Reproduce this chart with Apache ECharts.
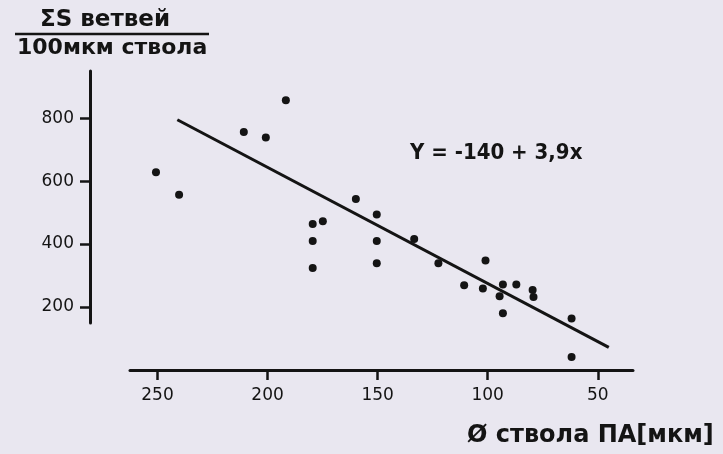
<!DOCTYPE html>
<html><head><meta charset="utf-8">
<script src="https://cdn.jsdelivr.net/npm/echarts@6/dist/echarts.min.js"></script>
<style>html,body{margin:0;padding:0;background:#e9e7f0;}#c{width:723px;height:454px;}</style>
</head><body><div id="c"></div>
<script>
// trunk diameter (µm) and sum of branch area per 100 µm trunk
const diam = [191.7,210.8,200.8,250.7,240.2,179.5,174.9,179.5,179.5,159.9,150.4,150.4,150.4,133.4,122.4,101,110.7,102.2,93.1,87,94.6,93.1,79.6,79.2,61.9,61.9];
const area = [857,756,739,628,557,464,473,410,324,543,494,410,339,416,339,348,269,259,272,272,234,180,254,232,164,41];
// regression line endpoints as drawn
const lineX = [241, 45];
const lineY = [795, 72];
const xTicks = [250,200,150,100,50];
const yTicks = [200,400,600,800];

const ink = '#141414';
const font = 'DejaVu Sans';
const chart = echarts.init(document.getElementById('c'));
chart.setOption({
  backgroundColor: '#e9e7f0',
  animation: false,
  grid: [
    {left: 130, right: 90, top: 71, bottom: 84},
    {left: 90, width: 10, top: 71, bottom: 131}
  ],
  xAxis: [
    {gridIndex: 0, type: 'value', inverse: true, min: 34, max: 262.5,
     axisLine: {lineStyle: {color: ink, width: 3}},
     axisTick: {show: true, customValues: xTicks, length: 10, lineStyle: {color: ink, width: 2.5}},
     axisLabel: {customValues: xTicks, color: ink, fontFamily: font, fontSize: 17, margin: 17},
     splitLine: {show: false}},
    {gridIndex: 1, type: 'value', show: false}
  ],
  yAxis: [
    {gridIndex: 0, type: 'value', min: 0, max: 950, show: false},
    {gridIndex: 1, type: 'value', min: 149, max: 950,
     axisLine: {show: true, lineStyle: {color: ink, width: 3}},
     axisTick: {show: true, customValues: yTicks, length: 10, lineStyle: {color: ink, width: 2.5}},
     axisLabel: {customValues: yTicks, color: ink, fontFamily: font, fontSize: 17, margin: 16},
     splitLine: {show: false}}
  ],
  series: [
    {type: 'scatter', xAxisIndex: 0, yAxisIndex: 0, symbolSize: 8,
     itemStyle: {color: ink, opacity: 1}, data: diam.map((d, i) => [d, area[i]])},
    {type: 'line', xAxisIndex: 0, yAxisIndex: 0, symbol: 'none',
     lineStyle: {color: ink, width: 3}, data: lineX.map((d, i) => [d, lineY[i]])}
  ],
  graphic: [
    {type: 'text', left: 40, top: 9, style: {text: 'ΣS ветвей', fill: ink, font: 'bold 23px "DejaVu Sans"'}},
    {type: 'line', shape: {x1: 15, y1: 34, x2: 209, y2: 34}, style: {stroke: ink, lineWidth: 2.5}},
    {type: 'text', left: 17, top: 37, style: {text: '100мкм ствола', fill: ink, font: 'bold 22px "DejaVu Sans"'}},
    {type: 'text', left: 410, top: 142, style: {text: 'Y = -140 + 3,9x', fill: ink, font: 'bold 22px "DejaVu Sans Condensed"'}},
    {type: 'text', left: 467, top: 424, style: {text: 'Ø ствола ПА[мкм]', fill: ink, font: 'bold 24px "DejaVu Sans"'}}
  ]
});
</script></body></html>
